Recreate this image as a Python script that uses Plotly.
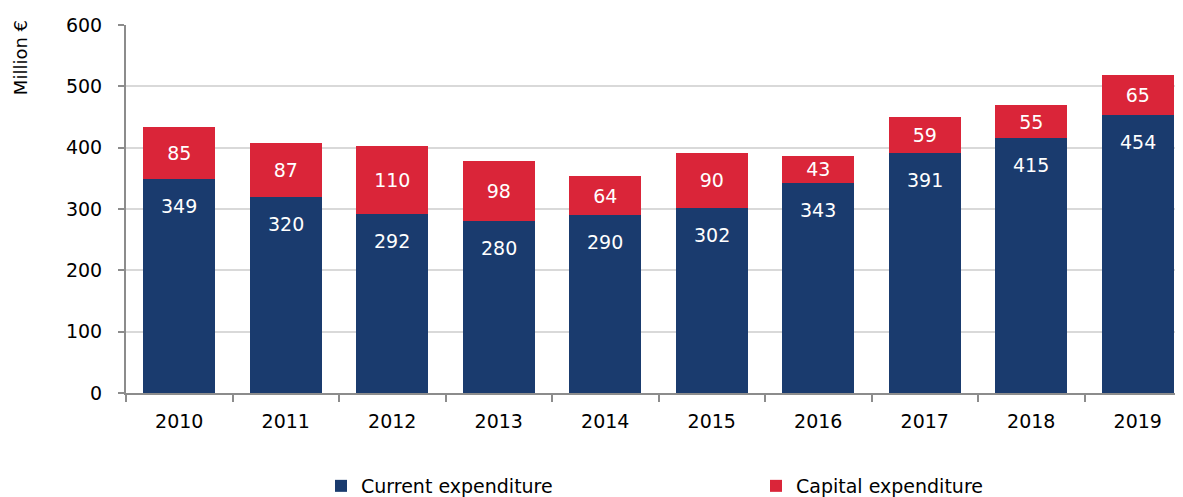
import plotly.graph_objects as go

# values
years = ['2010', '2011', '2012', '2013', '2014', '2015', '2016', '2017', '2018', '2019']
current_exp = [349, 320, 292, 280, 290, 302, 343, 391, 415, 454]
capital_exp = [85, 87, 110, 98, 64, 90, 43, 59, 55, 65]

blue = '#1a3b6e'
red = '#da2539'
font = 'DejaVu Sans'

fig = go.Figure()
fig.add_trace(go.Bar(x=years, y=current_exp, name='Current expenditure',
                     marker=dict(color=blue, line=dict(width=0))))
fig.add_trace(go.Bar(x=years, y=capital_exp, name='Capital expenditure',
                     marker=dict(color=red, line=dict(width=0)),
                     texttemplate='%{y}', textposition='inside',
                     insidetextanchor='middle',
                     textfont=dict(color='white', size=19, family=font)))

# blue labels sit a little below the top of the blue segment
# (x given as category index, numeric-looking strings would be read as numbers)
for i, v in enumerate(current_exp):
    fig.add_annotation(x=i, y=v, text=str(v), showarrow=False, yanchor='middle',
                       yshift=-27, font=dict(color='white', size=19, family=font))

fig.add_annotation(text='Million €', textangle=-90, xref='paper', yref='paper',
                   x=-0.0995, y=0.91, xanchor='center', yanchor='middle',
                   showarrow=False, font=dict(size=18))

fig.update_layout(
    width=1183, height=497,
    barmode='stack', bargap=0.325,
    plot_bgcolor='white', paper_bgcolor='white',
    margin=dict(l=118, r=0, t=17, b=112),
    font=dict(family=font, size=19, color='black'),
    uniformtext=dict(mode='show', minsize=19),
    legend=dict(orientation='h', traceorder='normal',
                x=0.215, xanchor='left', yref='container', y=0.0, yanchor='bottom',
                entrywidth=390, entrywidthmode='pixels', font=dict(size=19)),
)
fig.update_xaxes(type='category', range=[-0.5, 9.5], automargin=False,
                 showline=True, linecolor='#8c8c8c', linewidth=2,
                 ticks='outside', ticklen=7, tickcolor='#8c8c8c', tickwidth=2,
                 tickson='boundaries', showgrid=False, ticklabelstandoff=10)
fig.update_yaxes(range=[0, 600], dtick=100, automargin=False,
                 showline=True, linecolor='#8c8c8c', linewidth=2,
                 ticks='outside', ticklen=6, tickcolor='#8c8c8c', tickwidth=2,
                 gridcolor='#d9d9d9', gridwidth=1.5, zeroline=False,
                 ticklabelstandoff=12)

fig.write_html("out.html")
